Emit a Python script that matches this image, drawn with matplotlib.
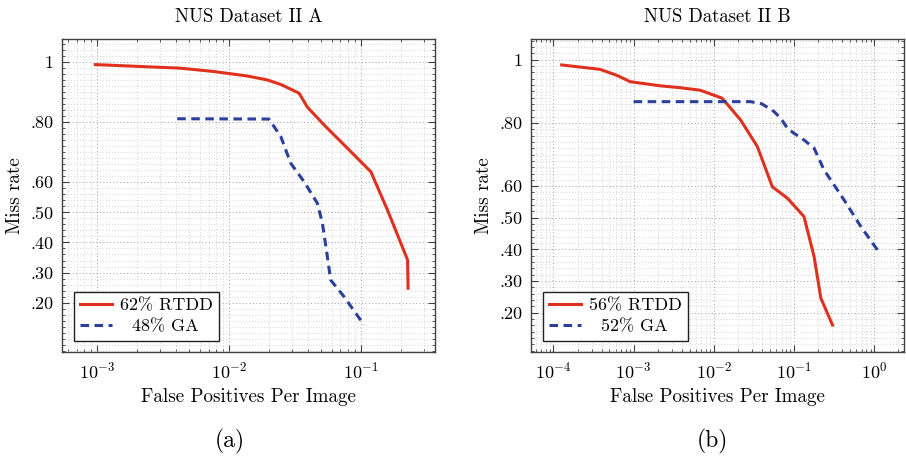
import numpy as np
import matplotlib
matplotlib.use("Agg")
import matplotlib.pyplot as plt
from matplotlib.ticker import FixedLocator, FixedFormatter, MultipleLocator, LogLocator, NullFormatter

plt.rcParams['font.family'] = 'cmr10'
plt.rcParams['mathtext.fontset'] = 'cm'
plt.rcParams['axes.formatter.use_mathtext'] = True

# ---- data ----
# panel (a): NUS Dataset II A
a_rtdd_fppi = [0.00097, 0.0043, 0.00767, 0.0138, 0.0195, 0.0247, 0.034, 0.0394,
               0.0541, 0.0791, 0.119, 0.159, 0.226, 0.228]
a_rtdd_miss = [0.991, 0.979, 0.968, 0.953, 0.940, 0.925, 0.896, 0.849,
               0.785, 0.713, 0.635, 0.508, 0.342, 0.248]
a_ga_fppi = [0.00405, 0.0201, 0.0247, 0.0294, 0.0371, 0.0468, 0.0511, 0.0557,
             0.059, 0.0745, 0.1057]
a_ga_miss = [0.811, 0.810, 0.752, 0.663, 0.602, 0.530, 0.464, 0.353,
             0.275, 0.220, 0.126]

# panel (b): NUS Dataset II B
b_rtdd_fppi = [0.000127, 0.000384, 0.00062, 0.00091, 0.00216, 0.00384, 0.00682,
               0.0127, 0.0216, 0.0349, 0.0537, 0.0827, 0.133, 0.178, 0.216, 0.302]
b_rtdd_miss = [0.983, 0.969, 0.950, 0.930, 0.917, 0.911, 0.903,
               0.878, 0.809, 0.725, 0.598, 0.562, 0.504, 0.377, 0.246, 0.161]
b_ga_fppi = [0.001, 0.0288, 0.0398, 0.0562, 0.068, 0.0827, 0.1, 0.133, 0.178,
             0.237, 0.422, 0.682, 1.10]
b_ga_miss = [0.867, 0.867, 0.860, 0.836, 0.815, 0.783, 0.767, 0.746, 0.720,
             0.651, 0.556, 0.472, 0.398]

ytick_vals = [0.2, 0.3, 0.4, 0.5, 0.6, 0.8, 1.0]
ytick_labels = ['.20', '.30', '.40', '.50', '.60', '.80', '1']

RED = '#e0301e'
BLUE = '#2b3f9e'
SPINE = '#404040'


def style_axes(ax, xlim, ylim):
    ax.set_xscale('log')
    ax.set_xlim(*xlim)
    ax.set_ylim(*ylim)
    ax.xaxis.set_major_locator(LogLocator(base=10, numticks=10))
    ax.xaxis.set_minor_locator(LogLocator(base=10, subs=np.arange(2, 10), numticks=10))
    ax.xaxis.set_minor_formatter(NullFormatter())
    ax.yaxis.set_major_locator(FixedLocator(ytick_vals))
    ax.yaxis.set_major_formatter(FixedFormatter(ytick_labels))
    ax.yaxis.set_minor_locator(MultipleLocator(0.02))
    ax.tick_params(which='both', direction='in', top=True, right=True,
                   color=SPINE, labelsize=13)
    ax.tick_params(which='major', length=5, width=0.8, pad=6)
    ax.tick_params(which='minor', length=2.5, width=0.6)
    ax.grid(which='major', linestyle=(0, (1, 2.5)), color='#a0a0a0', linewidth=0.7)
    ax.grid(which='minor', linestyle=(0, (1, 2.5)), color='#c8c8c8', linewidth=0.6)
    for s in ax.spines.values():
        s.set_color(SPINE)
        s.set_linewidth(1.0)
    ax.set_xlabel('False Positives Per Image', fontsize=13.7, labelpad=5)
    ax.set_ylabel('Miss rate', fontsize=13.7, labelpad=5)


fig = plt.figure(figsize=(9.06, 4.59), dpi=100)
W, H = 906.0, 459.0

ax_a = fig.add_axes([62 / W, 1 - 352 / H, 373 / W, 313 / H])
ax_b = fig.add_axes([531 / W, 1 - 352 / H, 373 / W, 313 / H])

style_axes(ax_a, (10 ** -3.266, 10 ** -0.438), (0.036, 1.076))
style_axes(ax_b, (10 ** -4.279, 10 ** 0.371), (0.076, 1.065))

ax_a.plot(a_rtdd_fppi, a_rtdd_miss, color=RED, lw=2.2, label='62% RTDD')
ax_a.plot(a_ga_fppi, a_ga_miss, color=BLUE, lw=2.2, ls=(0, (2.8, 1.8)), label='  48% GA')
ax_b.plot(b_rtdd_fppi, b_rtdd_miss, color=RED, lw=2.2, label='56% RTDD')
ax_b.plot(b_ga_fppi, b_ga_miss, color=BLUE, lw=2.2, ls=(0, (2.8, 1.8)), label='  52% GA')

ax_a.set_title('NUS Dataset II A', fontsize=13.5, pad=12)
ax_b.set_title('NUS Dataset II B', fontsize=13.5, pad=12)

for ax in (ax_a, ax_b):
    leg = ax.legend(loc='lower left', bbox_to_anchor=(0.031, 0.035), borderaxespad=0,
                    fontsize=13, fancybox=False, framealpha=1, edgecolor='#202020',
                    handlelength=1.8, handletextpad=0.4, borderpad=0.35, labelspacing=0.3)
    leg.get_frame().set_linewidth(1.0)

fig.text(230 / W, 1 - 441 / H, '(a)', fontsize=17, ha='center', va='center')
fig.text(712 / W, 1 - 441 / H, '(b)', fontsize=17, ha='center', va='center')

fig.savefig('out.png', dpi=100)
